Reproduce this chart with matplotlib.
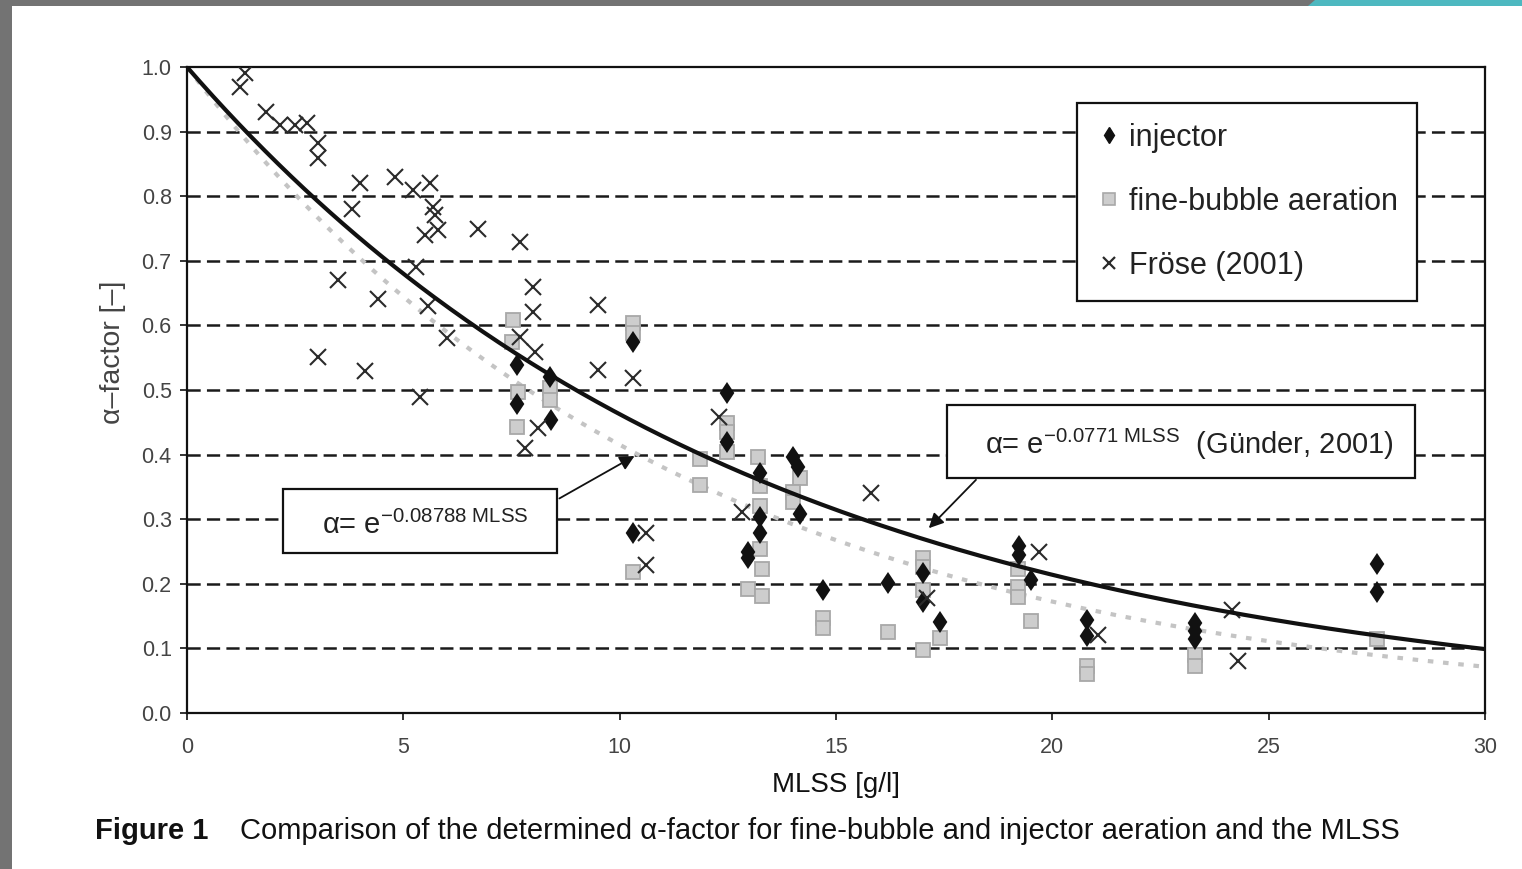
import numpy as np
import matplotlib
matplotlib.use("Agg")
import matplotlib.pyplot as plt
from matplotlib.patches import Rectangle, Polygon
from matplotlib.lines import Line2D

# ---------------- data ----------------
frose_x = [1.22, 1.34, 1.83, 2.15, 2.5, 2.77, 3.03, 3.03, 4.0, 4.81, 5.22, 5.62, 3.81,
           5.69, 5.73, 5.5, 5.8, 6.73, 7.7, 5.3, 3.49, 4.41, 5.57, 6.0, 3.03, 4.11, 5.38,
           8.0, 8.0, 9.5, 7.69, 8.04, 9.5, 10.3, 8.11, 7.81, 12.3, 10.6, 10.6, 12.83,
           15.8, 17.1, 19.7, 21.05, 24.15, 24.3]
frose_y = [0.969, 0.99, 0.93, 0.91, 0.91, 0.913, 0.882, 0.859, 0.82, 0.83, 0.81, 0.82, 0.78,
           0.783, 0.771, 0.74, 0.748, 0.75, 0.729, 0.69, 0.67, 0.641, 0.63, 0.58, 0.551, 0.529, 0.489,
           0.659, 0.621, 0.632, 0.582, 0.559, 0.531, 0.518, 0.441, 0.41, 0.458, 0.279, 0.229, 0.311,
           0.34, 0.178, 0.249, 0.121, 0.16, 0.081]

inj_x = [7.62, 7.62, 8.41, 8.39, 10.3, 10.3, 12.48, 12.48, 13.24, 13.24, 13.24, 12.97, 12.97,
         14.0, 14.12, 14.17, 14.7, 16.2, 17.0, 17.0, 17.4, 19.22, 19.22, 19.5, 20.8, 20.8,
         23.3, 23.3, 23.3, 27.5, 27.5]
inj_y = [0.539, 0.479, 0.454, 0.52, 0.575, 0.279, 0.495, 0.42, 0.371, 0.303, 0.279, 0.24, 0.25,
         0.396, 0.381, 0.308, 0.19, 0.201, 0.217, 0.172, 0.141, 0.259, 0.244, 0.206, 0.144, 0.119,
         0.139, 0.127, 0.114, 0.231, 0.188]

fb_x = [7.53, 7.51, 7.65, 7.63, 8.39, 8.39, 10.3, 10.3, 10.3, 11.86, 11.86, 12.48, 12.48, 12.48,
        13.2, 13.24, 13.24, 13.24, 13.3, 12.97, 13.3, 14.17, 14.0, 14.0, 14.7, 14.7, 16.2,
        17.0, 17.0, 17.0, 17.0, 17.4, 19.2, 19.2, 19.2, 19.5, 20.8, 20.8, 23.3, 23.3, 27.5]
fb_y = [0.608, 0.574, 0.497, 0.443, 0.503, 0.485, 0.604, 0.588, 0.218, 0.393, 0.353, 0.449, 0.435, 0.404,
        0.396, 0.351, 0.32, 0.254, 0.223, 0.192, 0.181, 0.364, 0.342, 0.327, 0.147, 0.131, 0.125,
        0.24, 0.226, 0.19, 0.098, 0.116, 0.223, 0.195, 0.18, 0.143, 0.073, 0.06, 0.09, 0.073, 0.114]

k_gunder = 0.0771
k_fit = 0.08788

x_ticks = [0, 5, 10, 15, 20, 25, 30]
y_ticks = [0.0, 0.1, 0.2, 0.3, 0.4, 0.5, 0.6, 0.7, 0.8, 0.9, 1.0]

# ---------------- style ----------------
plt.rcParams['font.family'] = ['Liberation Sans', 'DejaVu Sans']
plt.rcParams['lines.scale_dashes'] = False
plt.rcParams['mathtext.fontset'] = 'custom'
plt.rcParams['mathtext.rm'] = 'Liberation Sans'
plt.rcParams['mathtext.it'] = 'Liberation Sans:italic'

W, H = 1522, 869
fig = plt.figure(figsize=(W / 100, H / 100), dpi=100)
fig.patch.set_facecolor('white')

# screenshot frame
fig.patches.append(Rectangle((0, 0), 12 / W, 1, transform=fig.transFigure,
                             facecolor='#737373', edgecolor='none', zorder=0))
fig.patches.append(Rectangle((0, 1 - 6 / H), 1, 6 / H, transform=fig.transFigure,
                             facecolor='#737373', edgecolor='none', zorder=0))
fig.patches.append(Polygon([(1315 / W, 1), (1, 1), (1, 1 - 6 / H), (1308 / W, 1 - 6 / H)],
                           closed=True, transform=fig.transFigure,
                           facecolor='#4db8c0', edgecolor='none', zorder=1))

ax = fig.add_axes([187 / W, 1 - 713 / H, (1485 - 187) / W, (713 - 67) / H])
ax.set_xlim(0, 30)
ax.set_ylim(0, 1.0)

# dashed gridlines
for yv in y_ticks[1:-1]:
    ax.axhline(yv, color='#1a1a1a', lw=1.8, dashes=(9.5, 4.5), zorder=1)

# curves
xs = np.linspace(0, 30, 400)
ax.plot(xs, np.exp(-k_fit * xs), color='#c4c4c4', lw=3.0, dashes=(4, 7), zorder=2)
ax.plot(xs, np.exp(-k_gunder * xs), color='#111111', lw=3.0, zorder=5)

# markers
ax.plot(fb_x, fb_y, ls='none', marker='s', ms=9.5, mfc='#cdcdcd', mec='#a8a8a8', mew=1.3,
        zorder=3, label='fine-bubble aeration')
ax.plot(inj_x, inj_y, ls='none', marker='d', ms=9.5, mfc='#111111', mec='#111111', mew=1.6,
        zorder=4, label='injector')
ax.plot(frose_x, frose_y, ls='none', marker='x', ms=11.5, mec='#2a2a2a', mew=1.5,
        zorder=4, label='Fröse (2001)')

for s in ax.spines.values():
    s.set_linewidth(1.6)
    s.set_color('#111111')

ax.set_xticks(x_ticks)
ax.set_yticks(y_ticks)
ax.set_xticklabels([str(v) for v in x_ticks])
ax.set_yticklabels([f'{v:.1f}' for v in y_ticks])
ax.tick_params(axis='both', direction='out', length=5, width=1.2, colors='#111111',
               labelcolor='#444444', labelsize=15.5)
ax.tick_params(axis='x', pad=12)
ax.tick_params(axis='y', pad=6)

ax.set_ylabel('α–factor [–]', fontsize=20.5, color='#444444')
ax.yaxis.set_label_coords(-0.047, 0.559)
ax.set_xlabel('MLSS [g/l]', fontsize=20, color='#111111', labelpad=10)

# legend
handles = [
    Line2D([], [], ls='none', marker='d', ms=8, mfc='#111111', mec='#111111'),
    Line2D([], [], ls='none', marker='s', ms=8, mfc='#cdcdcd', mec='#a8a8a8', mew=1.2),
    Line2D([], [], ls='none', marker='x', ms=9, mec='#2a2a2a', mew=1.6),
]
leg = ax.legend(handles, ['injector', 'fine-bubble aeration', 'Fröse (2001)'],
                loc='upper left', bbox_to_anchor=((1077 - 187) / 1298, (713 - 103) / 646),
                borderaxespad=0, frameon=True, fancybox=False, framealpha=1,
                edgecolor='#111111', fontsize=22, labelspacing=1.12, borderpad=0.64,
                handlelength=0.8, handletextpad=0.25, labelcolor='#222222')
leg.get_frame().set_linewidth(1.6)
leg.set_zorder(10)

# annotation boxes
box1 = Rectangle((2.22, 0.248), 8.55 - 2.22, 0.347 - 0.248, facecolor='white',
                 edgecolor='#111111', lw=1.6, zorder=8)
ax.add_patch(box1)
ax.text(3.12, 0.290, 'α= e$^{\\mathregular{-0.08788\\ MLSS}}$', fontsize=21,
        color='#222222', va='center', ha='left', zorder=9)
ax.annotate('', xy=(10.4, 0.40), xytext=(8.55, 0.33),
            arrowprops=dict(arrowstyle='-|>', color='#111111', lw=1.3, mutation_scale=22),
            zorder=9)

box2 = Rectangle((17.56, 0.364), 28.38 - 17.56, 0.477 - 0.364, facecolor='white',
                 edgecolor='#111111', lw=1.6, zorder=8)
ax.add_patch(box2)
ax.text(18.45, 0.416, 'α= e$^{\\mathregular{-0.0771\\ MLSS}}$  (Günder, 2001)', fontsize=21,
        color='#222222', va='center', ha='left', zorder=9)
ax.annotate('', xy=(17.1, 0.283), xytext=(18.28, 0.364),
            arrowprops=dict(arrowstyle='-|>', color='#111111', lw=1.3, mutation_scale=22),
            zorder=9)

# caption
fig.text(95 / W, 1 - 831 / H, 'Figure 1', fontsize=21, fontweight='bold', color='#111111',
         va='center', ha='left')
fig.text(240 / W, 1 - 831 / H,
         'Comparison of the determined α-factor for fine-bubble and injector aeration and the MLSS',
         fontsize=21, color='#111111', va='center', ha='left')

fig.savefig('out.png', dpi=100, facecolor='white')
